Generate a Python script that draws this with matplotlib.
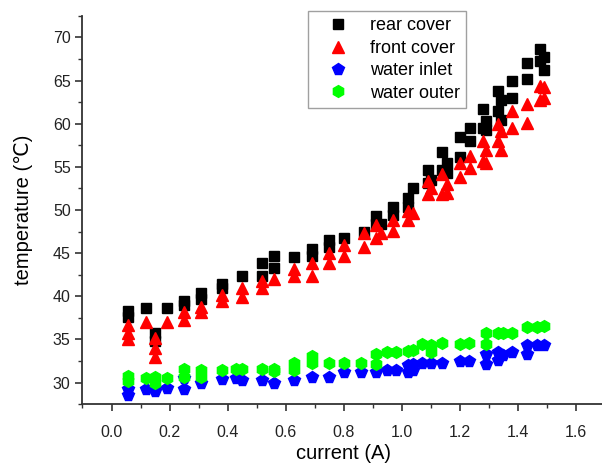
import matplotlib.pyplot as plt

plt.rcParams['font.family'] = ['Liberation Sans', 'DejaVu Sans']

# rear cover (black squares)
rear_i = [0.056, 0.056, 0.12, 0.15, 0.15, 0.19, 0.25, 0.25, 0.31, 0.31, 0.38, 0.38,
          0.45, 0.52, 0.52, 0.56, 0.56, 0.63, 0.69, 0.69, 0.75, 0.75, 0.80, 0.87,
          0.91, 0.91, 0.93, 0.97, 0.97, 1.02, 1.02, 1.04, 1.09, 1.09, 1.10, 1.14,
          1.14, 1.155, 1.155, 1.20, 1.20, 1.235, 1.235, 1.28, 1.28, 1.29, 1.29,
          1.33, 1.33, 1.34, 1.34, 1.38, 1.38, 1.43, 1.43, 1.475, 1.475, 1.49, 1.49]
rear_t = [38.3, 37.6, 38.6, 35.7, 34.8, 38.6, 39.5, 39.0, 40.4, 39.7, 41.4, 41.0,
          42.4, 43.9, 42.4, 44.7, 43.3, 44.5, 45.5, 44.7, 46.5, 45.7, 46.7, 47.4,
          49.3, 48.4, 48.4, 50.3, 49.4, 51.4, 50.3, 52.5, 54.6, 53.1, 53.5, 56.7,
          54.6, 55.4, 54.3, 58.4, 56.1, 59.5, 58.0, 61.7, 59.5, 60.3, 59.3,
          63.8, 61.5, 62.7, 60.4, 65.0, 63.0, 67.0, 65.2, 68.7, 67.3, 67.7, 66.2]

# front cover (red triangles)
front_i = [0.056, 0.056, 0.056, 0.12, 0.15, 0.15, 0.15, 0.19, 0.25, 0.25, 0.31,
           0.31, 0.38, 0.38, 0.45, 0.45, 0.52, 0.52, 0.56, 0.63, 0.63, 0.69, 0.69,
           0.75, 0.75, 0.80, 0.80, 0.87, 0.87, 0.91, 0.91, 0.93, 0.97, 0.97, 1.02,
           1.02, 1.04, 1.09, 1.09, 1.10, 1.14, 1.14, 1.155, 1.155, 1.20, 1.20,
           1.235, 1.235, 1.28, 1.28, 1.29, 1.29, 1.33, 1.33, 1.34, 1.34, 1.38,
           1.38, 1.43, 1.43, 1.475, 1.475, 1.49, 1.49]
front_t = [36.7, 35.7, 35.0, 37.0, 35.2, 34.0, 33.0, 37.0, 38.2, 37.2, 38.8,
           38.2, 40.2, 39.5, 41.0, 39.9, 41.8, 40.9, 42.0, 43.2, 42.4, 43.9, 42.4,
           45.0, 43.8, 45.9, 44.7, 47.3, 45.7, 48.2, 46.8, 47.3, 48.8, 47.6, 49.9,
           48.8, 49.7, 53.4, 51.9, 52.6, 54.2, 51.9, 53.0, 52.0, 55.4, 53.8,
           56.3, 54.9, 58.0, 55.7, 56.9, 55.4, 60.0, 58.0, 59.2, 56.9, 61.5,
           59.5, 62.3, 60.1, 64.4, 62.7, 64.2, 63.0]

# water inlet (blue pentagons)
inlet_i = [0.056, 0.056, 0.12, 0.15, 0.15, 0.19, 0.25, 0.25, 0.31, 0.38, 0.43,
           0.45, 0.52, 0.56, 0.63, 0.69, 0.75, 0.80, 0.86, 0.91, 0.95, 0.98, 1.02,
           1.02, 1.04, 1.04, 1.07, 1.10, 1.14, 1.20, 1.23, 1.29, 1.29, 1.33, 1.33,
           1.35, 1.38, 1.43, 1.43, 1.465, 1.49]
inlet_t = [29.3, 28.5, 29.3, 29.3, 29.0, 29.4, 30.5, 29.3, 30.0, 30.4, 30.5,
           30.3, 30.3, 30.0, 30.3, 30.6, 30.6, 31.2, 31.2, 31.2, 31.4, 31.4, 32.0,
           31.2, 32.1, 31.4, 32.3, 32.3, 32.3, 32.5, 32.5, 33.3, 32.2, 33.5, 32.6,
           33.2, 33.5, 34.3, 33.3, 34.4, 34.4]

# water outer (green)
outer_i = [0.056, 0.056, 0.12, 0.15, 0.15, 0.19, 0.25, 0.25, 0.31, 0.31, 0.38,
           0.43, 0.45, 0.52, 0.56, 0.56, 0.63, 0.63, 0.69, 0.69, 0.75, 0.80, 0.86,
           0.91, 0.91, 0.95, 0.98, 1.02, 1.04, 1.07, 1.10, 1.10, 1.14, 1.20, 1.23,
           1.29, 1.29, 1.33, 1.35, 1.38, 1.43, 1.465, 1.49]
outer_t = [30.8, 30.2, 30.5, 30.6, 30.0, 30.5, 31.6, 30.6, 31.5, 30.6, 31.5,
           31.6, 31.6, 31.6, 31.6, 31.3, 32.3, 31.4, 33.1, 32.3, 32.3, 32.3, 32.3,
           33.3, 32.2, 33.5, 33.5, 33.6, 33.8, 34.5, 34.3, 33.5, 34.6, 34.5, 34.6,
           35.7, 34.5, 35.7, 35.7, 35.7, 36.4, 36.4, 36.6]

fig = plt.figure(figsize=(6.02, 4.65), dpi=100)
ax = fig.add_axes([0.137, 0.131, 0.868, 0.835])

ax.plot(rear_i, rear_t, 's', color='black', ms=7.5, mec='black', label='rear cover')
ax.plot(front_i, front_t, '^', color='#ff0000', ms=8.5, mec='#ff0000', label='front cover')
ax.plot(inlet_i, inlet_t, 'p', color='#0000ff', ms=8.5, mec='#0000ff', label='water inlet')
ax.plot(outer_i, outer_t, 'h', color='#00ff00', ms=8.5, mec='#00ff00', label='water outer')

ax.set_xlim(-0.1, 1.7)
ax.set_ylim(27.5, 72.5)
ax.set_xticks([0.0, 0.2, 0.4, 0.6, 0.8, 1.0, 1.2, 1.4, 1.6])
ax.set_xticks([x / 10 for x in range(-1, 18)], minor=True)
ax.set_yticks([30, 35, 40, 45, 50, 55, 60, 65, 70])
ax.set_yticks([27.5 + 2.5 * k for k in range(19)], minor=True)
ax.xaxis.set_major_formatter(plt.FormatStrFormatter('%.1f'))

for side in ['top', 'right']:
    ax.spines[side].set_visible(False)
for side in ['left', 'bottom']:
    ax.spines[side].set_color('#333333')
    ax.spines[side].set_linewidth(1.3)

ax.tick_params(which='major', direction='out', length=5, width=1.2,
               color='#333333', labelsize=11.5, labelcolor='#222222')
ax.tick_params(which='minor', direction='out', length=3, width=1.0, color='#333333')
ax.tick_params(axis='x', which='major', pad=10)

ax.set_xlabel('current (A)', fontsize=14.5, labelpad=3)
ax.set_ylabel('temperature (℃)', fontsize=14.5, labelpad=14)

leg = ax.legend(loc='upper left', bbox_to_anchor=(0.512, 0.976),
                bbox_transform=fig.transFigure, borderaxespad=0, fontsize=13,
                fancybox=False, edgecolor='#888888', handletextpad=0.45,
                borderpad=0.35, labelspacing=0.3, handlelength=2.6)
leg.get_frame().set_linewidth(1.0)

fig.savefig('out.png', dpi=100)
